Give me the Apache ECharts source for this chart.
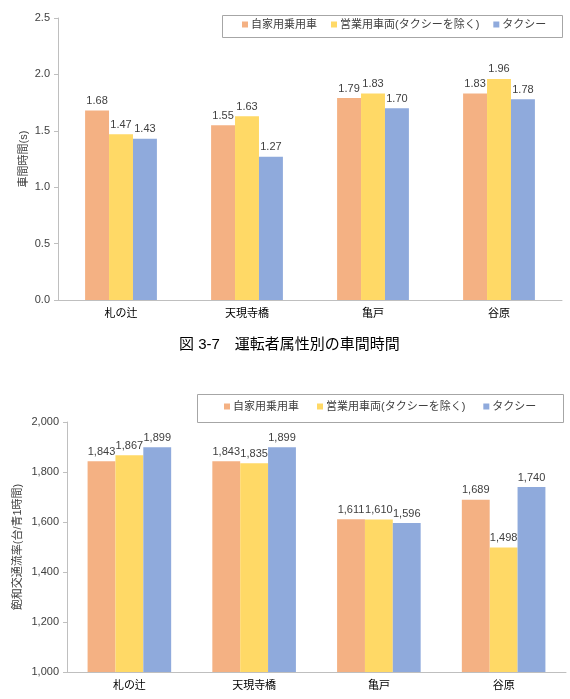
<!DOCTYPE html>
<html>
<head>
<meta charset="utf-8">
<script src="https://cdn.jsdelivr.net/npm/echarts@6/dist/echarts.min.js"></script>
<style>
  html, body { margin: 0; padding: 0; background: #fff; }
  #chart { width: 570px; height: 699px; }
</style>
</head>
<body>
<div id="chart"></div>
<script>
// 交差点
var categories = ['札の辻', '天現寺橋', '亀戸', '谷原'];
var seriesNames = ['自家用乗用車', '営業用車両(タクシーを除く)', 'タクシー'];

// 車間時間 (s)
var headway = [
  [1.68, 1.55, 1.79, 1.83],
  [1.47, 1.63, 1.83, 1.96],
  [1.43, 1.27, 1.70, 1.78]
];

// 飽和交通流率 (台/青1時間)
var satFlow = [
  [1843, 1843, 1611, 1689],
  [1867, 1835, 1610, 1498],
  [1899, 1899, 1596, 1740]
];

var colors = ['#F4B183', '#FFD966', '#8FAADC'];
var font = '"Liberation Sans", "Noto Sans CJK JP", sans-serif';
var textColor = '#404040';

var myChart = echarts.init(document.getElementById('chart'));

function legendRow(left, top, size, gap) {
  return {
    data: seriesNames,
    left: left,
    top: top,
    width: 500,
    padding: 0,
    icon: 'rect',
    itemWidth: 6,
    itemHeight: 6,
    itemGap: gap,
    textStyle: { fontSize: size, color: textColor, fontFamily: font, padding: [0, 0, 0, -2] }
  };
}

// 凡例の枠
function frame(x, y, w, h) {
  return {
    type: 'rect',
    shape: { x: x, y: y, width: w, height: h },
    style: { fill: 'none', stroke: '#A6A6A6', lineWidth: 1 },
    silent: true
  };
}

function xAx(gridIndex) {
  return {
    type: 'category',
    gridIndex: gridIndex,
    data: categories,
    axisLine: { lineStyle: { color: '#BFBFBF' } },
    axisTick: { show: false },
    axisLabel: { fontSize: 11, color: '#000', fontFamily: font, margin: 8 }
  };
}

function yAx(gridIndex, name, min, max, interval, fmt) {
  return {
    type: 'value',
    gridIndex: gridIndex,
    name: name,
    nameLocation: 'middle',
    nameMoveOverlap: false,
    nameGap: gridIndex === 0 ? 29 : 44,
    nameTextStyle: { fontSize: 11, color: textColor, fontFamily: font },
    min: min,
    max: max,
    interval: interval,
    axisLine: { show: true, lineStyle: { color: '#BFBFBF' } },
    axisTick: { show: true, length: 4, lineStyle: { color: '#BFBFBF' } },
    splitLine: { show: false },
    axisLabel: { fontSize: 11, color: textColor, fontFamily: font, margin: 8, formatter: fmt }
  };
}

var series = [];
seriesNames.forEach(function (n, i) {
  series.push({
    name: n,
    type: 'bar',
    xAxisIndex: 0,
    yAxisIndex: 0,
    data: headway[i],
    itemStyle: { color: colors[i] },
    barGap: '0%',
    barCategoryGap: '43%',
    label: {
      show: true, position: 'top', distance: 4,
      fontSize: 11, color: textColor, fontFamily: font,
      formatter: function (p) { return p.value.toFixed(2); }
    }
  });
});
seriesNames.forEach(function (n, i) {
  series.push({
    name: n,
    type: 'bar',
    xAxisIndex: 1,
    yAxisIndex: 1,
    data: satFlow[i],
    itemStyle: { color: colors[i] },
    barGap: '0%',
    barCategoryGap: '33%',
    label: {
      show: true, position: 'top', distance: 4,
      fontSize: 11, color: textColor, fontFamily: font,
      formatter: function (p) { return p.value.toLocaleString('en-US'); }
    }
  });
});

var option = {
  animation: false,
  backgroundColor: '#fff',
  title: {
    text: '図 3-7　運転者属性別の車間時間',
    left: 174,
    top: 332,
    textStyle: { fontSize: 15, fontWeight: 'normal', color: '#000', fontFamily: font }
  },
  graphic: [
    frame(222.5, 15.5, 340, 22),
    frame(197.5, 394.5, 366, 28)
  ],
  legend: [
    legendRow(242, 19, 11, 14),
    legendRow(224, 401, 11, 18)
  ],
  grid: [
    { left: 58, right: 8, top: 18, height: 282 },
    { left: 67, right: 4, top: 422, height: 250 }
  ],
  xAxis: [xAx(0), xAx(1)],
  yAxis: [
    yAx(0, '車間時間(s)', 0, 2.5, 0.5, function (v) { return v.toFixed(1); }),
    yAx(1, '飽和交通流率(台/青1時間)', 1000, 2000, 200, function (v) { return v.toLocaleString('en-US'); })
  ],
  series: series
};
myChart.setOption(option);
</script>
</body>
</html>
